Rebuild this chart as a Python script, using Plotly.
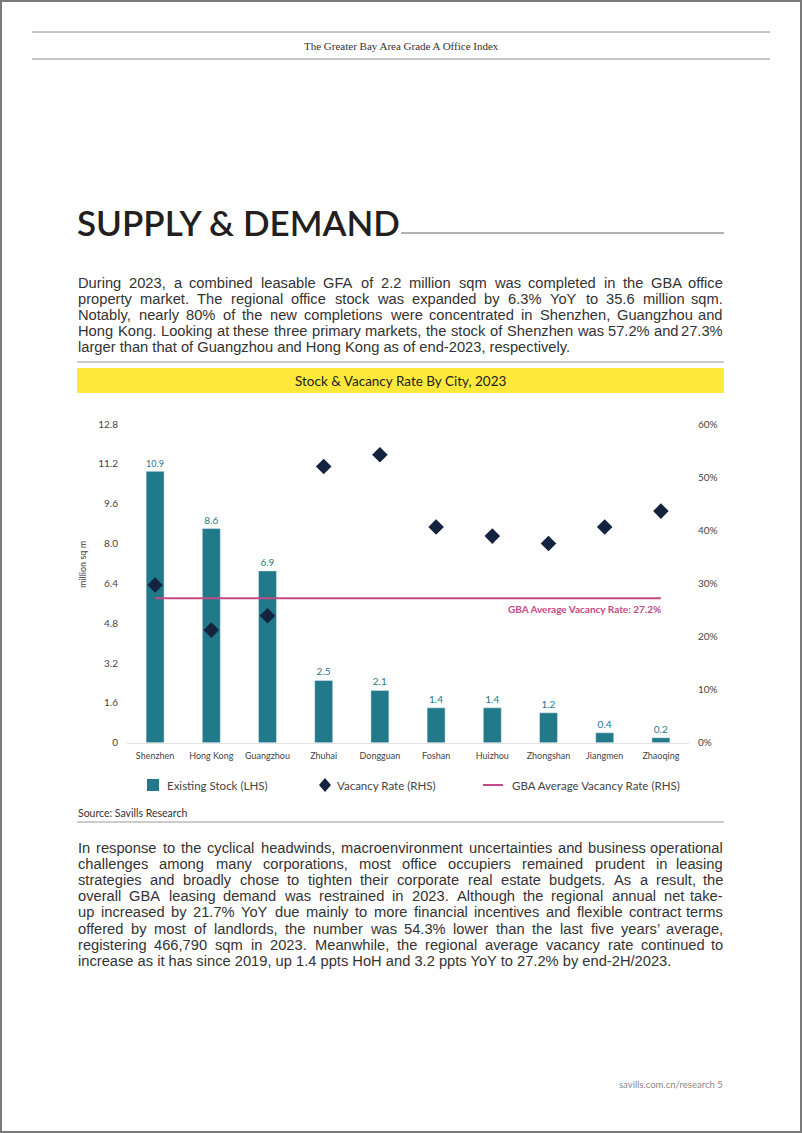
import plotly.graph_objects as go

W, H = 802, 1133

cities = ["Shenzhen", "Hong Kong", "Guangzhou", "Zhuhai", "Dongguan",
          "Foshan", "Huizhou", "Zhongshan", "Jiangmen", "Zhaoqing"]
stock = [10.9, 8.6, 6.9, 2.5, 2.1, 1.4, 1.4, 1.2, 0.4, 0.2]
vacancy = [29.7, 21.2, 23.9, 52.0, 54.2, 40.6, 38.9, 37.5, 40.6, 43.6]
gba_avg = 27.2
left_tickvals = [0, 1.6, 3.2, 4.8, 6.4, 8.0, 9.6, 11.2, 12.8]
left_ticktext = ["0", "1.6", "3.2", "4.8", "6.4", "8.0", "9.6", "11.2", "12.8"]
right_tickvals = [0, 10, 20, 30, 40, 50, 60]
right_ticktext = ["0%", "10%", "20%", "30%", "40%", "50%", "60%"]

para1 = [
    "During 2023, a combined leasable GFA of 2.2 million sqm was completed in the GBA office",
    "property market. The regional office stock was expanded by 6.3% YoY to 35.6 million sqm.",
    "Notably, nearly 80% of the new completions were concentrated in Shenzhen, Guangzhou and",
    "Hong Kong. Looking at these three primary markets, the stock of Shenzhen was 57.2% and 27.3%",
    "larger than that of Guangzhou and Hong Kong as of end-2023, respectively.",
]
para2 = [
    "In response to the cyclical headwinds, macroenvironment uncertainties and business operational",
    "challenges among many corporations, most office occupiers remained prudent in leasing",
    "strategies and broadly chose to tighten their corporate real estate budgets. As a result, the",
    "overall GBA leasing demand was restrained in 2023. Although the regional annual net take-",
    "up increased by 21.7% YoY due mainly to more financial incentives and flexible contract terms",
    "offered by most of landlords, the number was 54.3% lower than the last five years\u2019 average,",
    "registering 466,790 sqm in 2023. Meanwhile, the regional average vacancy rate continued to",
    "increase as it has since 2019, up 1.4 ppts HoH and 3.2 ppts YoY to 27.2% by end-2H/2023.",
]

TEAL = "#22798a"
NAVY = "#14233f"
PINK = "#c64a85"
TXT = "#444444"
FONT = "Lato, 'Noto Sans', sans-serif"
BODY_FONT = "'Liberation Sans', Arial, sans-serif"
BODY_SIZE = 14.7

# Arial / Liberation Sans advance widths (per 1000 em)
_AW = {" ": 278, "a": 556, "b": 556, "c": 500, "d": 556, "e": 556, "f": 278, "g": 556,
       "h": 556, "i": 222, "j": 222, "k": 500, "l": 222, "m": 833, "n": 556, "o": 556,
       "p": 556, "q": 556, "r": 333, "s": 500, "t": 278, "u": 556, "v": 500, "w": 722,
       "x": 500, "y": 500, "z": 500, "A": 667, "B": 667, "C": 722, "D": 722, "E": 667,
       "F": 611, "G": 778, "H": 722, "I": 278, "J": 500, "K": 667, "L": 556, "M": 833,
       "N": 722, "O": 778, "P": 667, "Q": 778, "R": 722, "S": 667, "T": 611, "U": 722,
       "V": 667, "W": 944, "X": 667, "Y": 667, "Z": 611, ".": 278, ",": 278, "-": 333,
       "%": 889, "'": 191, "\u2019": 222, "/": 278, "&": 667, "(": 333, ")": 333, ":": 278}


def text_w(s, size):
    return sum(_AW.get(c, 556) for c in s) * size / 1000.0


def px(x):
    return x / W


def py(y):
    return 1 - y / H


fig = go.Figure()
fig.add_trace(go.Bar(
    x=cities, y=stock, marker_color=TEAL, width=0.32,
    text=[f"{v:.1f}" for v in stock], textposition="outside",
    textfont=dict(color=TEAL, size=10, family=FONT), cliponaxis=False,
    name="Existing Stock (LHS)", showlegend=False,
))
fig.add_trace(go.Scatter(
    x=cities, y=vacancy, yaxis="y2", mode="markers",
    marker=dict(symbol="diamond", size=12, color=NAVY),
    name="Vacancy Rate (RHS)", showlegend=False,
))
fig.add_trace(go.Scatter(
    x=[cities[0], cities[-1]], y=[gba_avg, gba_avg], yaxis="y2", mode="lines",
    line=dict(color=PINK, width=2), name="GBA Average Vacancy Rate (RHS)",
    showlegend=False,
))

x0p, x1p = 127, 689
y0p, y1p = 742.7, 424
fig.update_layout(
    width=W, height=H, margin=dict(l=0, r=0, t=0, b=0, autoexpand=False),
    paper_bgcolor="white", plot_bgcolor="white",
    font=dict(family=FONT, color=TXT),
    xaxis=dict(domain=[px(x0p), px(x1p)], range=[-0.5, len(cities) - 0.5],
               showgrid=False, showline=True,
               linecolor="#e2e2e2", linewidth=1, ticks="",
               tickfont=dict(size=9, color=TXT), ticklabelstandoff=4),
    yaxis=dict(domain=[py(y0p), py(y1p)], range=[0, 12.8], showgrid=False,
               zeroline=False, tickvals=left_tickvals, ticktext=left_ticktext,
               tickfont=dict(size=10, color=TXT), ticks="", ticklabelstandoff=8),
    yaxis2=dict(overlaying="y", side="right", range=[0, 60], showgrid=False,
                zeroline=False, tickvals=right_tickvals, ticktext=right_ticktext,
                tickfont=dict(size=10, color=TXT), ticks="", ticklabelstandoff=8),
    showlegend=False,
)

ann = []
shapes = []


def paragraph(lines, y_first, dy, size, left=77, right=724):
    for i, line in enumerate(lines):
        yy = py(y_first + i * dy)
        words = line.split(" ")
        last = i == len(lines) - 1
        if last or len(words) < 2:
            ann.append(dict(text=line, x=px(left - 1), y=yy, xref="paper", yref="paper",
                            showarrow=False, xanchor="left", yanchor="middle",
                            font=dict(family=BODY_FONT, size=size, color="#333")))
            continue
        widths = [text_w(w, size) for w in words]
        gap = (right - left - sum(widths)) / (len(words) - 1)
        xcur = left
        for j, (w, wd) in enumerate(zip(words, widths)):
            if j == len(words) - 1:
                ann.append(dict(text=w, x=px(right + 1), y=yy, xref="paper", yref="paper",
                                showarrow=False, xanchor="right", yanchor="middle",
                                font=dict(family=BODY_FONT, size=size, color="#333")))
            else:
                ann.append(dict(text=w, x=px(xcur - 1), y=yy, xref="paper", yref="paper",
                                showarrow=False, xanchor="left", yanchor="middle",
                                font=dict(family=BODY_FONT, size=size, color="#333")))
            xcur += wd + gap


# page border
shapes.append(dict(type="rect", xref="paper", yref="paper", x0=px(1), x1=px(W - 1),
                   y0=py(H - 1), y1=py(1), line=dict(color="#7a7a7a", width=2)))
# header
for yy in (32, 59):
    shapes.append(dict(type="line", xref="paper", yref="paper", x0=px(32), x1=px(770),
                       y0=py(yy), y1=py(yy), line=dict(color="#8a8a8a", width=1)))
ann.append(dict(text="The Greater Bay Area Grade A Office Index", x=px(401), y=py(46),
                xref="paper", yref="paper", showarrow=False, xanchor="center", yanchor="middle",
                font=dict(family="'Liberation Serif', 'DejaVu Serif', serif", size=11, color="#333")))
# title
ann.append(dict(text="SUPPLY &amp; DEMAND", x=px(75), y=py(222), xref="paper", yref="paper",
                showarrow=False, xanchor="left", yanchor="middle",
                font=dict(family=FONT, size=35, color="#231f20", weight=600)))
shapes.append(dict(type="line", xref="paper", yref="paper", x0=px(401), x1=px(724),
                   y0=py(233), y1=py(233), line=dict(color="#666", width=1)))

paragraph(para1, 283.5, 15.8, BODY_SIZE)

# chart frame
shapes.append(dict(type="line", xref="paper", yref="paper", x0=px(77), x1=px(724),
                   y0=py(362), y1=py(362), line=dict(color="#999", width=1)))
shapes.append(dict(type="rect", xref="paper", yref="paper", x0=px(77), x1=px(724),
                   y0=py(393), y1=py(368), fillcolor="#fde93b", line=dict(width=0), layer="below"))
ann.append(dict(text="Stock &amp; Vacancy Rate By City, 2023", x=px(400), y=py(381),
                xref="paper", yref="paper", showarrow=False, xanchor="center", yanchor="middle",
                font=dict(family=FONT, size=13.5, color="#222")))
ann.append(dict(text="million sq m", x=px(82), y=py(565), xref="paper", yref="paper",
                showarrow=False, textangle=-90, xanchor="center", yanchor="middle",
                font=dict(family=FONT, size=9, color=TXT)))
ann.append(dict(text=f"<b>GBA Average Vacancy Rate: {gba_avg}%</b>", x=cities[-1], y=gba_avg,
                xref="x", yref="y2", xshift=2, yshift=-11, showarrow=False,
                xanchor="right", yanchor="middle",
                font=dict(family=FONT, size=10, color=PINK)))
# legend
shapes.append(dict(type="rect", xref="paper", yref="paper", x0=px(147), x1=px(159),
                   y0=py(791), y1=py(779), fillcolor=TEAL, line=dict(width=0)))
ann.append(dict(text="Existing Stock (LHS)", x=px(165), y=py(785), xref="paper", yref="paper",
                showarrow=False, xanchor="left", yanchor="middle",
                font=dict(family=FONT, size=11.5, color=TXT)))
shapes.append(dict(type="path", xref="paper", yref="paper",
                   path=f"M {px(325)} {py(778)} L {px(331)} {py(785)} L {px(325)} {py(792)} L {px(319)} {py(785)} Z",
                   fillcolor=NAVY, line=dict(width=0)))
ann.append(dict(text="Vacancy Rate (RHS)", x=px(335), y=py(785), xref="paper", yref="paper",
                showarrow=False, xanchor="left", yanchor="middle",
                font=dict(family=FONT, size=11.5, color=TXT)))
shapes.append(dict(type="line", xref="paper", yref="paper", x0=px(483), x1=px(503),
                   y0=py(785), y1=py(785), line=dict(color=PINK, width=2)))
ann.append(dict(text="GBA Average Vacancy Rate (RHS)", x=px(510), y=py(785), xref="paper",
                yref="paper", showarrow=False, xanchor="left", yanchor="middle",
                font=dict(family=FONT, size=11.5, color=TXT)))
ann.append(dict(text="Source: Savills Research", x=px(76), y=py(813), xref="paper", yref="paper",
                showarrow=False, xanchor="left", yanchor="middle",
                font=dict(family=FONT, size=10.5, color="#333")))
shapes.append(dict(type="line", xref="paper", yref="paper", x0=px(77), x1=px(724),
                   y0=py(822), y1=py(822), line=dict(color="#999", width=1)))
# paragraph 2
paragraph(para2, 848, 16.1, BODY_SIZE)
# footer
ann.append(dict(text="savills.com.cn/research 5", x=px(725), y=py(1084), xref="paper",
                yref="paper", showarrow=False, xanchor="right", yanchor="middle",
                font=dict(family=FONT, size=9.5, color="#888")))

fig.update_layout(annotations=ann, shapes=shapes)
fig.write_html("out.html", config={"displayModeBar": False},
               post_script="document.body.style.margin='0';document.body.style.overflow='hidden';")
